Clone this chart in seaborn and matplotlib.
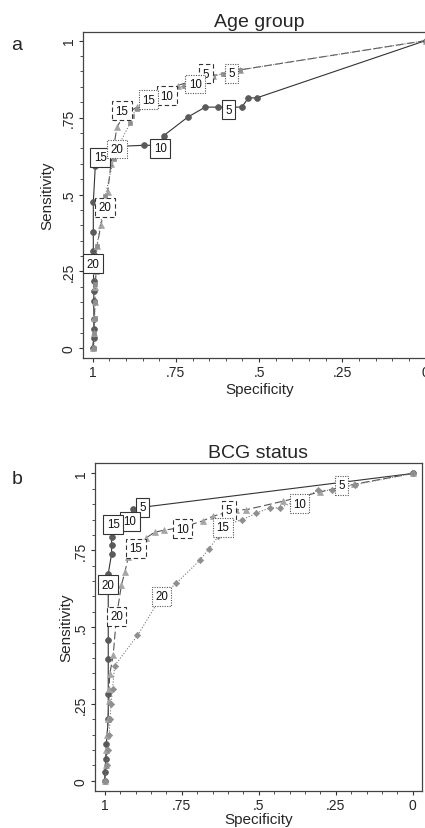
import numpy as np
import pandas as pd
import matplotlib
matplotlib.use("Agg")
import matplotlib.pyplot as plt
from matplotlib.ticker import MultipleLocator, FixedLocator
import seaborn as sns

# ---------------- data ----------------
# Panel a: Age group
a_solid_spec = [0.000, 0.507, 0.532, 0.552, 0.592, 0.622, 0.662, 0.715, 0.787, 0.800, 0.847, 0.930, 0.975, 0.992,
                0.998, 0.998, 0.998, 0.998, 0.997, 0.996, 0.997, 0.996, 0.996, 0.997, 0.998]
a_solid_sens = [1.000, 0.814, 0.814, 0.784, 0.784, 0.784, 0.784, 0.751, 0.691, 0.660, 0.660, 0.656, 0.625, 0.594,
                0.475, 0.378, 0.318, 0.277, 0.218, 0.188, 0.155, 0.096, 0.063, 0.033, 0.000]

a_dash_spec = [0.000, 0.557, 0.600, 0.637, 0.659, 0.700, 0.745, 0.777, 0.820, 0.867, 0.905, 0.927, 0.945, 0.955,
               0.962, 0.975, 0.987, 0.990, 0.992, 0.993, 0.995, 0.997, 1.000]
a_dash_sens = [1.000, 0.905, 0.895, 0.886, 0.886, 0.870, 0.854, 0.830, 0.810, 0.784, 0.760, 0.719, 0.600, 0.507,
               0.470, 0.400, 0.334, 0.250, 0.200, 0.150, 0.100, 0.050, 0.000]

a_dot_spec = [0.000, 0.557, 0.582, 0.607, 0.637, 0.692, 0.727, 0.762, 0.832, 0.867, 0.882, 0.887, 0.927, 0.937,
              0.962, 0.987, 0.992, 0.993, 0.994, 0.995, 0.997]
a_dot_sens = [1.000, 0.905, 0.900, 0.892, 0.886, 0.866, 0.852, 0.840, 0.808, 0.778, 0.756, 0.733, 0.648, 0.616,
              0.496, 0.334, 0.210, 0.150, 0.100, 0.050, 0.000]

# cutoff labels (value, specificity, sensitivity)
a_solid_lab = [5, 10, 15, 20]
a_solid_lab_spec = [0.592, 0.797, 0.977, 1.000]
a_solid_lab_sens = [0.775, 0.651, 0.621, 0.275]
a_dash_lab = [5, 10, 15, 20]
a_dash_lab_spec = [0.659, 0.777, 0.912, 0.962]
a_dash_lab_sens = [0.892, 0.821, 0.773, 0.459]
a_dot_lab = [5, 10, 15, 20]
a_dot_lab_spec = [0.582, 0.692, 0.832, 0.927]
a_dot_lab_sens = [0.894, 0.859, 0.808, 0.648]

# Panel b: BCG status
b_solid_spec = [0.000, 0.878, 0.910, 0.919, 0.973, 0.978, 0.978, 0.978, 0.989, 0.989, 0.989, 0.989, 0.989, 0.989,
                0.995, 0.997, 1.000, 1.000]
b_solid_sens = [1.000, 0.890, 0.883, 0.855, 0.834, 0.793, 0.766, 0.739, 0.674, 0.638, 0.457, 0.397, 0.283, 0.202,
                0.120, 0.072, 0.030, 0.000]

b_dash_spec = [0.000, 0.190, 0.300, 0.420, 0.541, 0.573, 0.597, 0.649, 0.681, 0.748, 0.809, 0.838, 0.865, 0.899,
               0.924, 0.935, 0.946, 0.962, 0.973, 0.984, 0.986, 0.987, 0.990, 0.992, 0.995, 0.997, 1.000]
b_dash_sens = [1.000, 0.965, 0.940, 0.910, 0.882, 0.882, 0.875, 0.861, 0.846, 0.825, 0.815, 0.809, 0.791, 0.760,
               0.728, 0.679, 0.638, 0.536, 0.408, 0.348, 0.300, 0.260, 0.200, 0.150, 0.100, 0.050, 0.000]

b_dot_spec = [0.000, 0.189, 0.232, 0.262, 0.308, 0.368, 0.432, 0.465, 0.508, 0.553, 0.616, 0.632, 0.662, 0.692,
              0.768, 0.816, 0.894, 0.968, 0.975, 0.980, 0.983, 0.986, 0.990, 0.994, 1.000]
b_dot_sens = [1.000, 0.963, 0.955, 0.945, 0.945, 0.915, 0.888, 0.888, 0.871, 0.850, 0.830, 0.795, 0.755, 0.717,
              0.643, 0.601, 0.473, 0.375, 0.300, 0.250, 0.200, 0.150, 0.100, 0.050, 0.000]

b_solid_lab = [5, 10, 15, 20]
b_solid_lab_spec = [0.878, 0.919, 0.973, 0.989]
b_solid_lab_sens = [0.890, 0.845, 0.834, 0.638]
b_dash_lab = [5, 10, 15, 20]
b_dash_lab_spec = [0.597, 0.748, 0.899, 0.962]
b_dash_lab_sens = [0.880, 0.820, 0.757, 0.536]
b_dot_lab = [5, 10, 15, 20]
b_dot_lab_spec = [0.232, 0.368, 0.616, 0.816]
b_dot_lab_sens = [0.961, 0.901, 0.825, 0.601]

major_ticks = [0, 0.25, 0.5, 0.75, 1]
tick_labels = ["0", ".25", ".5", ".75", "1"]

# ---------------- style ----------------
sns.set_style("ticks")
plt.rcParams['font.family'] = ['Liberation Sans', 'DejaVu Sans']

fig = plt.figure(figsize=(4.25, 8.29), dpi=100)
W, H = 425.0, 829.0

def px_axes(l, t, r, b):
    return fig.add_axes([l / W, 1 - b / H, (r - l) / W, (b - t) / H])

ax_a = px_axes(83, 32.7, 435.5, 359)
ax_b = px_axes(95, 464, 422, 791.7)

series_style = {
    "solid": dict(ls="-", color="#333333", marker="o", mfc="#5a5a5a", mec="#5a5a5a", ms=4.2),
    "dash": dict(ls=(0, (7, 3)), color="#555555", marker="^", mfc="#a5a5a5", mec="#a5a5a5", ms=3.8),
    "dot": dict(ls=(0, (1, 1.6)), color="#777777", marker="s", mfc="#8f8f8f", mec="#8f8f8f", ms=3.2),
}
box_ls = {"solid": "-", "dash": (0, (4, 2.5)), "dot": (0, (1, 1.2))}

def draw_series(ax, spec, sens, kind, marker=None):
    st = dict(series_style[kind])
    if marker is not None:
        st["marker"] = marker
    df = pd.DataFrame({"spec": spec, "sens": sens})
    sns.lineplot(data=df, x="spec", y="sens", ax=ax, sort=False, estimator=None,
                 color=st["color"], linestyle=st["ls"], linewidth=0.8,
                 marker=st["marker"], markersize=st["ms"],
                 markerfacecolor=st["mfc"], markeredgecolor=st["mec"], markeredgewidth=0.5,
                 zorder=3)

def draw_labels(ax, labs, spec, sens, kind):
    for v, x, y in zip(labs, spec, sens):
        ax.text(x, y, str(v), ha="center", va="center", fontsize=8.3, color="#111111", zorder=6,
                bbox=dict(boxstyle="square,pad=0.3", fc="white",
                          ec="#333333" if kind != "dot" else "#555555",
                          lw=0.8, ls=box_ls[kind]))

def style_axes(ax, title, xlim, ylim, ylab_x, xlab_y):
    ax.set_xlim(*xlim)
    ax.set_ylim(*ylim)
    ax.xaxis.set_major_locator(FixedLocator(major_ticks))
    ax.yaxis.set_major_locator(FixedLocator(major_ticks))
    ax.set_xticklabels(tick_labels)
    ax.set_yticklabels(tick_labels, rotation=90, va="center")
    ax.xaxis.set_minor_locator(MultipleLocator(0.05))
    ax.yaxis.set_minor_locator(MultipleLocator(0.05))
    ax.tick_params(which="major", length=3.2, width=0.8, color="#333333", labelsize=10, pad=2)
    ax.tick_params(which="minor", length=2.0, width=0.6, color="#333333")
    for s in ax.spines.values():
        s.set_visible(True)
        s.set_color("#444444")
        s.set_linewidth(0.9)
    ax.set_xlabel("Specificity", fontsize=11)
    ax.set_ylabel("Sensitivity", fontsize=11)
    ax.yaxis.set_label_coords(ylab_x, 0.5)
    ax.xaxis.set_label_coords(0.5, xlab_y)
    ax.set_title(title, fontsize=14, pad=4)
    ax.grid(False)

# Panel a
draw_series(ax_a, a_solid_spec, a_solid_sens, "solid")
draw_series(ax_a, a_dash_spec, a_dash_sens, "dash")
draw_series(ax_a, a_dot_spec, a_dot_sens, "dot")
draw_labels(ax_a, a_solid_lab, a_solid_lab_spec, a_solid_lab_sens, "solid")
draw_labels(ax_a, a_dash_lab, a_dash_lab_spec, a_dash_lab_sens, "dash")
draw_labels(ax_a, a_dot_lab, a_dot_lab_spec, a_dot_lab_sens, "dot")
style_axes(ax_a, "Age group", (1.029, -0.03), (-0.031, 1.029), -0.08, -0.074)

# Panel b
draw_series(ax_b, b_solid_spec, b_solid_sens, "solid")
draw_series(ax_b, b_dash_spec, b_dash_sens, "dash")
draw_series(ax_b, b_dot_spec, b_dot_sens, "dot", marker="D")
draw_labels(ax_b, b_solid_lab, b_solid_lab_spec, b_solid_lab_sens, "solid")
draw_labels(ax_b, b_dash_lab, b_dash_lab_spec, b_dash_lab_sens, "dash")
draw_labels(ax_b, b_dot_lab, b_dot_lab_spec, b_dot_lab_sens, "dot")
style_axes(ax_b, "BCG status", (1.032, -0.03), (-0.032, 1.034), -0.066, -0.064)

fig.text(17 / W, 1 - 45 / H, "a", fontsize=14, ha="center", va="center")
fig.text(17 / W, 1 - 480 / H, "b", fontsize=14, ha="center", va="center")

fig.savefig("out.png", dpi=100, facecolor="white")
